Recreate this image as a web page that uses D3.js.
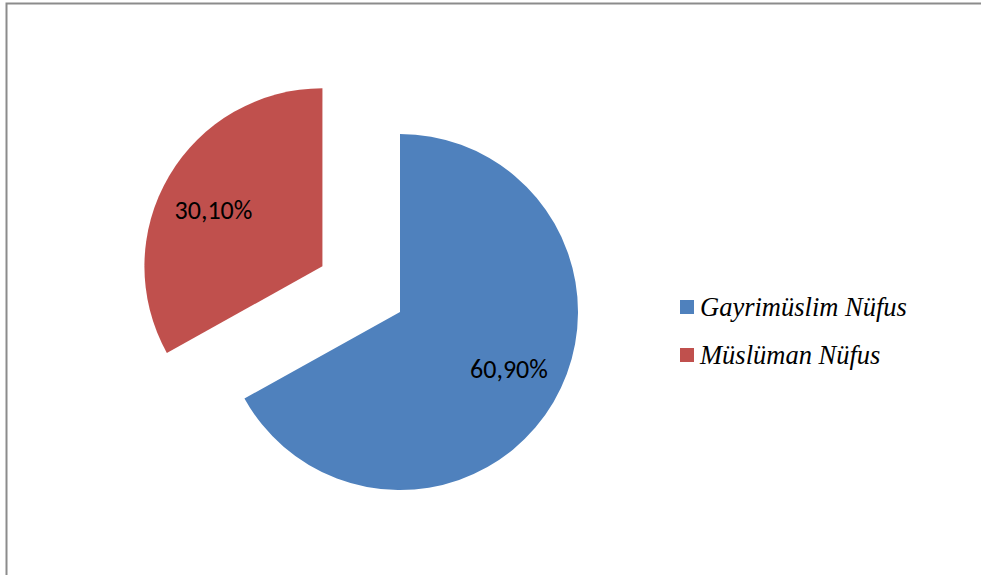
<!DOCTYPE html>
<html>
<head>
<meta charset="utf-8">
<script src="https://cdn.jsdelivr.net/npm/d3@7"></script>
<style>
  body { margin: 0; background: #fff; }
</style>
</head>
<body>
<div id="chart"></div>
<script>
// chart data
var categories = ["Gayrimüslim Nüfus", "Müslüman Nüfus"];
var values = [60.9, 30.1];
var labels = ["60,90%", "30,10%"];
var colors = ["#4f81bd", "#c0504d"];
var explode = [0, 90];

var W = 981, H = 575;
var CX = 400, CY = 312, R = 178;

var svg = d3.select("#chart").append("svg")
  .attr("width", W)
  .attr("height", H);

// frame (only top and left edges show in the original)
svg.append("rect")
  .attr("x", 6.5).attr("y", 3.5)
  .attr("width", W + 20).attr("height", H + 20)
  .style("fill", "none")
  .style("stroke", "#8c8c8c")
  .style("stroke-width", 2);

var pie = d3.pie().sort(null).value(function(d) { return d; });
var arcs = pie(values);
var arc = d3.arc().innerRadius(0).outerRadius(R);

function offset(d, i) {
  var a = (d.startAngle + d.endAngle) / 2;
  return [Math.sin(a) * explode[i], -Math.cos(a) * explode[i]];
}

var g = svg.append("g").attr("transform", "translate(" + CX + "," + CY + ")");

var slice = g.selectAll("g.slice")
  .data(arcs)
  .enter().append("g")
  .attr("class", "slice")
  .attr("transform", function(d, i) {
    var o = offset(d, i);
    return "translate(" + o[0] + "," + o[1] + ")";
  });

slice.append("path")
  .attr("d", arc)
  .style("fill", function(d, i) { return colors[i]; });

// labels sit a little off the mid angle, like Excel does
var LR = R * 0.69, LSHIFT = 3 * Math.PI / 180;
slice.append("text")
  .attr("transform", function(d) {
    var a = (d.startAngle + d.endAngle) / 2 - LSHIFT;
    return "translate(" + (Math.sin(a) * LR) + "," + (-Math.cos(a) * LR) + ")";
  })
  .attr("text-anchor", "middle")
  .attr("dy", "0.35em")
  .style("font-family", "Carlito, 'Open Sans', sans-serif")
  .style("font-size", "26px")
  .style("fill", "#000")
  .text(function(d, i) { return labels[i]; });

// legend
var legend = svg.selectAll("g.legend")
  .data(categories)
  .enter().append("g")
  .attr("class", "legend")
  .attr("transform", function(d, i) { return "translate(680," + (300 + i * 48) + ")"; });

legend.append("rect")
  .attr("width", 14).attr("height", 14)
  .style("fill", function(d, i) { return colors[i]; });

legend.append("text")
  .attr("x", 20).attr("y", 16)
  .style("font-family", "'Liberation Serif', 'Times New Roman', serif")
  .style("font-style", "italic")
  .style("font-size", "26.5px")
  .text(function(d) { return d; });
</script>
</body>
</html>
